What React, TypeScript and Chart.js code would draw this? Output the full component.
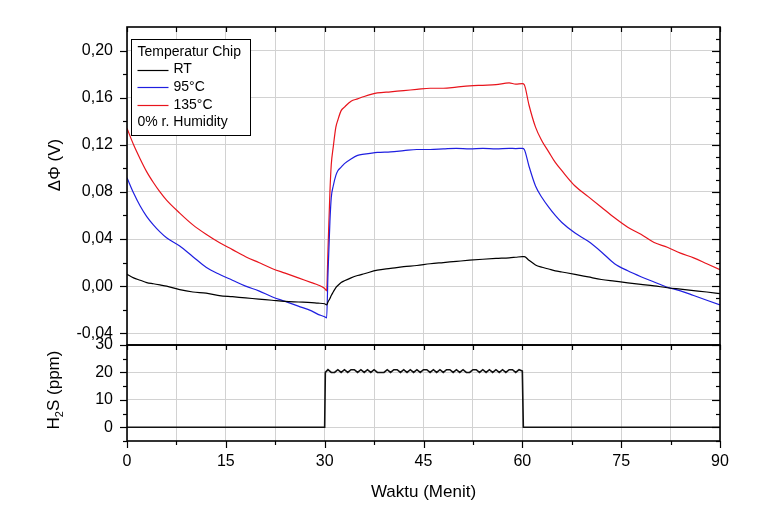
import React, { useEffect, useRef } from "react";
import { Chart, registerables } from "chart.js";

Chart.register(...registerables);

// ---------- DATA ----------
const timeMin = [0, 1, 2, 3, 4, 5, 6, 8, 10, 12, 14, 16, 18, 20, 22, 24, 26, 28, 29, 30,
  30.3, 30.5, 30.8, 31, 31.3, 31.7, 32, 32.5, 33, 34, 35, 36, 38, 40, 42, 44, 46, 48, 50, 52,
  54, 56, 58, 59, 60, 60.3,
  61, 62, 63, 64, 65, 66, 68, 70, 72, 74, 76, 78, 80, 82, 84, 86, 88, 90];

const rtValues = [0.010, 0.007, 0.005, 0.003, 0.002, 0.001, 0.000, -0.003, -0.005, -0.006,
  -0.008, -0.009, -0.010, -0.011, -0.012, -0.013, -0.0135, -0.014, -0.0145, -0.015,
  -0.016, -0.0135, -0.0105, -0.008, -0.005, -0.0012, 0.0005, 0.003, 0.0045, 0.007,
  0.009, 0.0105, 0.0135, 0.015, 0.0165, 0.0175, 0.019, 0.020, 0.021, 0.022,
  0.0228, 0.0235, 0.024, 0.0245, 0.025, 0.025,
  0.022, 0.018, 0.016, 0.0145, 0.013, 0.012, 0.010, 0.0078, 0.0056, 0.0042, 0.0028, 0.0015,
  0.0002, -0.0014, -0.0026, -0.0038, -0.005, -0.0064];

const c95Values = [0.092, 0.079, 0.068, 0.059, 0.052, 0.046, 0.041, 0.034, 0.025, 0.016,
  0.010, 0.005, 0.000, -0.004, -0.009, -0.013, -0.017, -0.021, -0.024, -0.026,
  -0.027, 0.010, 0.055, 0.075, 0.085, 0.094, 0.098, 0.101, 0.104, 0.108,
  0.111, 0.112, 0.1135, 0.114, 0.115, 0.116, 0.116, 0.1165, 0.117, 0.1166,
  0.117, 0.1165, 0.117, 0.1168, 0.117, 0.116,
  0.102, 0.085, 0.075, 0.067, 0.060, 0.054, 0.045, 0.038, 0.029, 0.019, 0.013, 0.008,
  0.0035, -0.001, -0.004, -0.008, -0.012, -0.016];

const c135Values = [0.134, 0.120, 0.108, 0.097, 0.088, 0.080, 0.073, 0.062, 0.052, 0.044,
  0.037, 0.031, 0.025, 0.020, 0.015, 0.011, 0.007, 0.003, 0.001, -0.002,
  -0.004, 0.030, 0.080, 0.103, 0.118, 0.135, 0.141, 0.149, 0.152, 0.157,
  0.159, 0.161, 0.164, 0.165, 0.166, 0.167, 0.168, 0.168, 0.169, 0.170,
  0.1705, 0.171, 0.1725, 0.1715, 0.172, 0.171,
  0.154, 0.135, 0.123, 0.114, 0.105, 0.098, 0.085, 0.076, 0.067, 0.058, 0.050, 0.044,
  0.037, 0.033, 0.028, 0.024, 0.019, 0.014];

const h2sTime = [0, 30, 30.1,
  30.5, 31, 31.5, 32, 32.5, 33, 33.5, 34, 34.5, 35,
  35.5, 36, 36.5, 37, 37.5, 38, 38.5, 39, 39.5, 40,
  40.5, 41, 41.5, 42, 42.5, 43, 43.5, 44, 44.5, 45,
  45.5, 46, 46.5, 47, 47.5, 48, 48.5, 49, 49.5, 50,
  50.5, 51, 51.5, 52, 52.5, 53, 53.5, 54, 54.5, 55,
  55.5, 56, 56.5, 57, 57.5, 58, 58.5, 59, 59.5,
  60, 60.15, 90];

const h2sValues = [0, 0, 20,
  21, 20, 20, 21, 20, 21, 20, 21, 21, 20,
  21, 20, 21, 20, 21, 20, 20, 20, 21, 20,
  21, 21, 20, 21, 20, 21, 20, 21, 20, 21,
  21, 20, 21, 20, 21, 20, 21, 21, 20, 21,
  20, 21, 20, 20, 21, 21, 20, 21, 20, 21,
  20, 21, 20, 21, 20, 21, 21, 20, 21,
  20.5, 0, 0];

const seriesLabels = ["RT", "95°C", "135°C"];
const legendTitle = "Temperatur Chip";
const legendNote = "0% r. Humidity";

const xTickValues = [0, 7.5, 15, 22.5, 30, 37.5, 45, 52.5, 60, 67.5, 75, 82.5, 90];
const topTickValues = [-0.04, 0, 0.04, 0.08, 0.12, 0.16, 0.2];
const bottomTickValues = [0, 10, 20, 30];

// ---------- STYLE ----------
const FONT = "'Liberation Sans', Arial, sans-serif";
const GRID = "#d2d2d2";
const COLORS = ["#000000", "#1f1fe0", "#e8141c"];

const fmtTop = (v: number) => v.toFixed(2).replace(".", ",");

const toPts = (xs: number[], ys: number[]) => xs.map((x, i) => ({ x, y: ys[i] }));

const framePlugin = {
  id: "frame",
  afterDatasetsDraw(chart: any) {
    const { ctx } = chart;
    const x = chart.scales.x;
    const yT = chart.scales.y;
    const yB = chart.scales.y2;
    const L = x.left, R = x.right;
    const line = (x1: number, y1: number, x2: number, y2: number) => {
      ctx.beginPath();
      ctx.moveTo(x1, y1);
      ctx.lineTo(x2, y2);
      ctx.stroke();
    };
    ctx.save();
    ctx.strokeStyle = "#000";
    ctx.lineWidth = 1.2;
    for (let k = 0; k <= 12; k++) {
      const v = k * 7.5;
      const px = Math.round(x.getPixelForValue(v)) + 0.5;
      const major = k % 2 === 0;
      line(px, yT.top, px, yT.top + 5);
      line(px, yB.top, px, yB.top + 5);
      line(px, yB.bottom, px, yB.bottom + (major ? 7 : 4));
    }
    for (let k = -4; k <= 20; k += 2) {
      const py = Math.round(yT.getPixelForValue(k / 100)) + 0.5;
      const major = k % 4 === 0;
      line(L, py, L - (major ? 7 : 4), py);
    }
    for (let k = -4; k <= 21; k++) {
      const py = Math.round(yT.getPixelForValue(k / 100)) + 0.5;
      const major = k % 4 === 0;
      line(R, py, R - (major ? 8 : 4), py);
    }
    for (let k = -5; k <= 30; k += 5) {
      const py = Math.round(yB.getPixelForValue(k)) + 0.5;
      const major = k % 10 === 0;
      line(L, py, L - (major ? 7 : 4), py);
      line(R, py, R - (major ? 8 : 4), py);
    }
    ctx.lineWidth = 1.6;
    ctx.strokeRect(L, yT.top, R - L, yT.bottom - yT.top);
    ctx.strokeRect(L, yB.top, R - L, yB.bottom - yB.top);
    ctx.restore();
  },
  afterDraw(chart: any) {
    const { ctx } = chart;
    const x = chart.scales.x;
    const yT = chart.scales.y;
    const yB = chart.scales.y2;
    ctx.save();
    ctx.fillStyle = "#000";
    ctx.font = `17px ${FONT}`;
    ctx.textAlign = "center";
    ctx.textBaseline = "middle";
    ctx.fillText("Waktu (Menit)", (x.left + x.right) / 2, yB.bottom + 51);

    ctx.save();
    ctx.translate(x.left - 72, yT.top + 138);
    ctx.rotate(-Math.PI / 2);
    ctx.fillText("\u0394\u03A6 (V)", 0, 0);
    ctx.restore();

    ctx.save();
    ctx.translate(x.left - 73, (yB.top + yB.bottom) / 2 - 3);
    ctx.rotate(-Math.PI / 2);
    ctx.textAlign = "left";
    ctx.font = `17px ${FONT}`;
    const wH = ctx.measureText("H").width;
    const wS = ctx.measureText("S (ppm)").width;
    ctx.font = `11px ${FONT}`;
    const w2 = ctx.measureText("2").width;
    const total = wH + w2 + wS;
    let cx = -total / 2;
    ctx.font = `17px ${FONT}`;
    ctx.fillText("H", cx, 0);
    cx += wH;
    ctx.font = `11px ${FONT}`;
    ctx.fillText("2", cx, 6);
    cx += w2;
    ctx.font = `17px ${FONT}`;
    ctx.fillText("S (ppm)", cx, 0);
    ctx.restore();

    const bx = x.left + 4.5, by = yT.top + 12.5, bw = 119, bh = 96;
    ctx.fillStyle = "#fff";
    ctx.fillRect(bx, by, bw, bh);
    ctx.strokeStyle = "#000";
    ctx.lineWidth = 1;
    ctx.strokeRect(bx, by, bw, bh);
    ctx.fillStyle = "#000";
    ctx.font = `14px ${FONT}`;
    ctx.textAlign = "left";
    ctx.textBaseline = "middle";
    const tx = bx + 6;
    const row0 = by + 12.5;
    const step = 17.6;
    ctx.fillText(legendTitle, tx, row0);
    seriesLabels.forEach((lab, i) => {
      const ry = row0 + step * (i + 1);
      ctx.strokeStyle = COLORS[i];
      ctx.lineWidth = 1.2;
      ctx.beginPath();
      ctx.moveTo(tx, Math.round(ry) + 0.5);
      ctx.lineTo(tx + 31, Math.round(ry) + 0.5);
      ctx.stroke();
      ctx.fillText(lab, tx + 36, ry);
    });
    ctx.fillText(legendNote, tx, row0 + step * 4);
    ctx.restore();
  },
};

export default function App() {
  const ref = useRef<HTMLCanvasElement>(null);
  useEffect(() => {
    const canvas = ref.current!;
    const tickFont = { family: FONT, size: 16 };
    const smooth = { cubicInterpolationMode: "monotone" };
    const chart = new Chart(canvas, {
      type: "line",
      data: {
        datasets: [
          { label: seriesLabels[0], data: toPts(timeMin, rtValues), borderColor: COLORS[0], yAxisID: "y", ...smooth },
          { label: seriesLabels[1], data: toPts(timeMin, c95Values), borderColor: COLORS[1], yAxisID: "y", ...smooth },
          { label: seriesLabels[2], data: toPts(timeMin, c135Values), borderColor: COLORS[2], yAxisID: "y", ...smooth },
          { label: "H2S", data: toPts(h2sTime, h2sValues), borderColor: "#111", borderWidth: 1.6, yAxisID: "y2" },
        ],
      },
      options: {
        animation: false,
        responsive: false,
        elements: { point: { radius: 0 }, line: { borderWidth: 1.2, tension: 0 } },
        plugins: { legend: { display: false }, tooltip: { enabled: false } },
        layout: { padding: { top: 27, right: 43, left: 0, bottom: 0 } },
        scales: {
          x: {
            type: "linear",
            position: "bottom",
            min: 0,
            max: 90,
            afterBuildTicks: (s: any) => { s.ticks = xTickValues.map((v) => ({ value: v })); },
            afterFit: (s: any) => { s.height = 79; },
            ticks: {
              callback: (v: any) => (Number(v) % 15 === 0 ? String(v) : ""),
              font: tickFont, color: "#000", maxRotation: 0, autoSkip: false, padding: 11,
            },
            grid: { color: GRID, drawTicks: false, lineWidth: 1 },
            border: { display: false },
          },
          y: {
            type: "linear",
            position: "left",
            stack: "panels",
            stackWeight: 318,
            weight: 2,
            min: -0.05,
            max: 0.22,
            afterBuildTicks: (s: any) => { s.ticks = topTickValues.map((v) => ({ value: v })); },
            afterFit: (s: any) => { s.width = 127; },
            ticks: { callback: (v: any) => fmtTop(Number(v)), font: tickFont, color: "#000", padding: 14, autoSkip: false },
            grid: { color: GRID, drawTicks: false, lineWidth: 1 },
            border: { display: false },
          },
          y2: {
            type: "linear",
            position: "left",
            stack: "panels",
            stackWeight: 96,
            weight: 1,
            min: -5,
            max: 30,
            afterBuildTicks: (s: any) => { s.ticks = bottomTickValues.map((v) => ({ value: v })); },
            afterFit: (s: any) => { s.width = 127; },
            ticks: { callback: (v: any) => String(v), font: tickFont, color: "#000", padding: 14, autoSkip: false },
            grid: { color: GRID, drawTicks: false, lineWidth: 1 },
            border: { display: false },
          },
        },
      },
      plugins: [framePlugin],
    } as any);
    return () => chart.destroy();
  }, []);
  return (
    <div style={{ position: "fixed", left: 0, top: 0, width: 763, height: 520, background: "#fff" }}>
      <canvas ref={ref} width={763} height={520} style={{ width: 763, height: 520, display: "block" }} />
    </div>
  );
}
